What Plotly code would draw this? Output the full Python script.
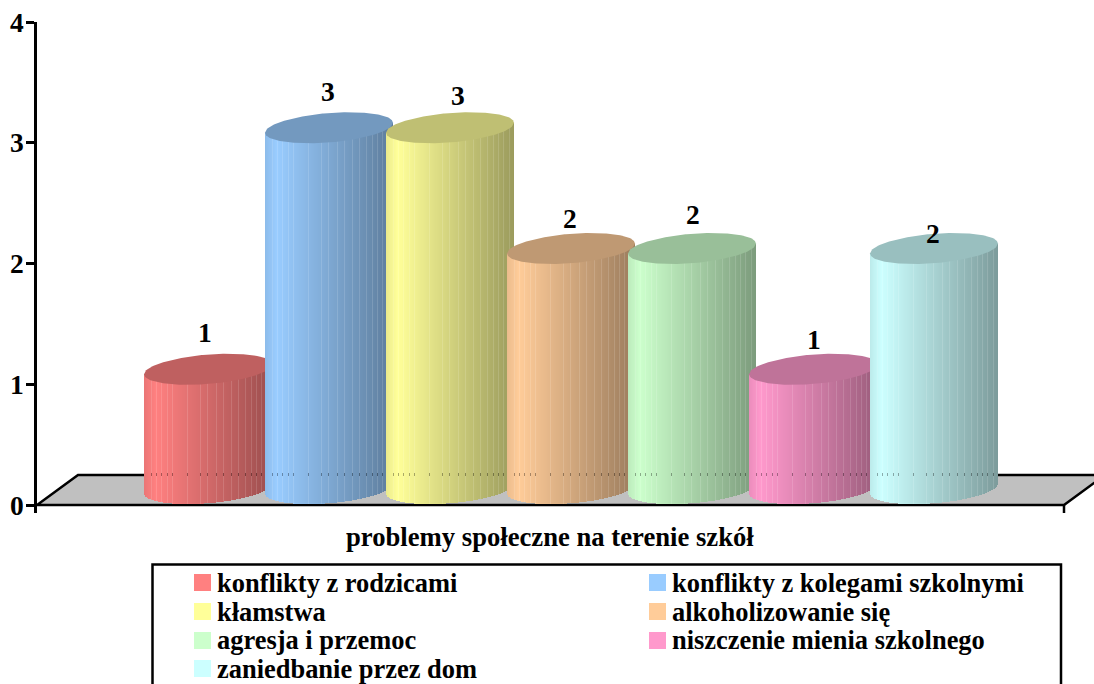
import math
import plotly.graph_objects as go

# ---- data ----
categories = ["konflikty z rodzicami", "konflikty z kolegami szkolnymi", "kłamstwa",
              "alkoholizowanie się", "agresja i przemoc", "niszczenie mienia szkolnego",
              "zaniedbanie przez dom"]
values = [1, 3, 3, 2, 2, 1, 2]
colors = [(255, 128, 128), (153, 204, 255), (255, 255, 153), (255, 204, 153),
          (204, 255, 204), (255, 153, 204), (204, 255, 255)]
y_ticks = [0, 1, 2, 3, 4]
x_title = "problemy społeczne na terenie szkół"

# ---- layout constants (pixels of the 1094x684 page) ----
W, H = 1094, 684
PL, PR, PT, PB = 37, 1094, 22, 513
Y0, UNIT = 505, 120.75
X0, STEP = 208, 121
RADIUS, TILT, HALF = 64, 5.0, 14.7
CENTER_DROP = 15
BOTTOM_LIFT = 1.5
SEAMS = [7, 12, 17, 23, 28, 43, 56, 63, 72, 79, 87, 94, 101, 107, 112, 117, 123]
LABEL_SHIFT = [(-3, 37), (-1, 36), (8, 32), (-1, 30.5), (1, 34.5), (1, 30), (-1, 15.5)]
FONT = "Liberation Serif"
TITLE_SIZE = 26.67
LEGEND_SIZE = 26.45
DIGIT_SIZE = 27.5


def X(p):
    return (p - X0) / STEP


def Y(p):
    return (Y0 - p) / UNIT


def PX(p):
    return (p - PL) / (PR - PL)


def PY(p):
    return (PB - p) / (PB - PT)


def rgb(c, f=1.0, white=0.0):
    v = [min(255, c_ * f) * (1 - white) + 255 * white for c_ in c]
    return "rgb(%d,%d,%d)" % tuple(round(a) for a in v)


def shade(t):
    return 0.92 + t / 0.09 * 0.08 if t < 0.09 else 1 - (t - 0.09) * 0.43


def edge(dx, sign):
    """Offset in px of the tilted ellipse edge at dx from the centre; sign=+1 lower edge, 0 centre line."""
    u = max(-1.0, min(1.0, dx / RADIUS))
    return -TILT * u + sign * HALF * math.sqrt(1 - u * u)


fig = go.Figure()
caps = []
for i, (name, v, c) in enumerate(zip(categories, values, colors)):
    cx = X0 + STEP * i
    left = cx - RADIUS
    top_px = Y0 - CENTER_DROP - v * UNIT
    bot_px = Y0 - CENTER_DROP - BOTTOM_LIFT
    xs, bases, heights, cols = [], [], [], []
    for k in range(2 * RADIUS):
        px = left + k + 0.5
        lower = bot_px + edge(px - cx, 1)
        upper = top_px + edge(px - cx, 0)
        xs.append(X(px))
        bases.append(Y(lower))
        heights.append((lower - upper) / UNIT)
        cols.append(rgb(c, shade((k + 0.5) / (2 * RADIUS))))
    fig.add_trace(go.Bar(x=xs, y=heights, base=bases, width=1 / STEP, name=name,
                         marker=dict(color=cols, line=dict(width=0)), showlegend=False,
                         hoverinfo="skip"))
    # thin lighter seams between facets, and the floor line showing through them
    sx, sb, sh, sc, dc = [], [], [], [], []
    for s in SEAMS:
        px = left + s + 0.5
        lower = bot_px + edge(px - cx, 1)
        upper = top_px + edge(px - cx, 0)
        sx.append(X(px))
        sb.append(Y(lower))
        sh.append((lower - upper) / UNIT)
        sc.append(rgb(c, shade(s / 128), 0.13))
        dc.append(rgb(c, shade(s / 128) * 0.68))
    fig.add_trace(go.Bar(x=sx, y=sh, base=sb, width=1 / STEP, showlegend=False,
                         marker=dict(color=sc, line=dict(width=0)), hoverinfo="skip"))
    fig.add_trace(go.Bar(x=sx, y=[3 / UNIT] * len(sx), base=[Y(476)] * len(sx), width=1 / STEP,
                         showlegend=False, marker=dict(color=dc, line=dict(width=0)),
                         hoverinfo="skip"))
    # top cap (cut where the next, taller cylinder stands in front of it)
    limit = RADIUS
    if i + 1 < len(values) and values[i + 1] > v:
        limit = STEP - RADIUS
    n = 120
    grid = [-RADIUS + 2 * RADIUS * j / n for j in range(n + 1) if -RADIUS + 2 * RADIUS * j / n <= limit]
    grid.append(limit)
    cap_x = [X(cx + d) for d in grid] + [X(cx + d) for d in reversed(grid)]
    cap_y = [Y(top_px + edge(d, -1)) for d in grid] + [Y(top_px + edge(d, 1)) for d in reversed(grid)]
    caps.append(go.Scatter(x=cap_x, y=cap_y, mode="lines", fill="toself", fillcolor=rgb(c, 0.75),
                           line=dict(width=0), showlegend=False, hoverinfo="skip"))
for t in caps:
    fig.add_trace(t)

annotations = []
# value labels
for i, v in enumerate(values):
    dx, up = LABEL_SHIFT[i]
    annotations.append(dict(x=i, y=v + Y(Y0 - CENTER_DROP), xref="x", yref="y", text=str(v),
                            xshift=dx, yshift=up, showarrow=False, xanchor="center", yanchor="middle",
                            font=dict(family=FONT, size=DIGIT_SIZE, color="black", weight=700)))
# axis title
annotations.append(dict(x=PX(550), y=PY(537), xref="paper", yref="paper", text=x_title, showarrow=False,
                        xanchor="center", yanchor="middle",
                        font=dict(family=FONT, size=TITLE_SIZE, color="black", weight=700)))

shapes = [
    dict(type="path", layer="below", xref="x", yref="y",
         path="M %f %f L %f %f L %f %f L %f %f Z" % (X(37), Y(505), X(78), Y(475), X(1105), Y(475), X(1064), Y(505)),
         fillcolor="#C0C0C0", line=dict(color="black", width=2.5)),
    dict(type="line", layer="below", xref="x", yref="y", x0=X(1064), x1=X(1064), y0=Y(505), y1=Y(513),
         line=dict(color="black", width=2.5)),
    dict(type="rect", xref="paper", yref="paper", x0=PX(152.5), x1=PX(1061), y0=PY(564.5), y1=PY(700),
         line=dict(color="black", width=2.5), fillcolor="rgba(0,0,0,0)"),
]
# legend entries: two columns, filled row by row
LEG_X = [194, 649]
LEG_Y = [574, 603, 632, 660]
LEG_TEXT_Y = [583, 611.5, 640, 668.5]
for i, (name, c) in enumerate(zip(categories, colors)):
    lx, ly = LEG_X[i % 2], LEG_Y[i // 2]
    shapes.append(dict(type="rect", xref="paper", yref="paper", x0=PX(lx), x1=PX(lx + 17), y0=PY(ly), y1=PY(ly + 17),
                       fillcolor=rgb(c), line=dict(width=0)))
    annotations.append(dict(x=PX(lx + 20.5), y=PY(LEG_TEXT_Y[i // 2]), xref="paper", yref="paper", text=name,
                            showarrow=False, xanchor="left", yanchor="middle",
                            font=dict(family=FONT, size=LEGEND_SIZE, color="black", weight=700)))

fig.update_layout(
    width=W, height=H, autosize=False, paper_bgcolor="white", plot_bgcolor="white",
    margin=dict(l=PL, r=W - PR, t=PT, b=H - PB, pad=0),
    barmode="overlay", bargap=0, showlegend=False,
    shapes=shapes, annotations=annotations,
    xaxis=dict(visible=False, range=[X(PL), X(PR)], fixedrange=True),
    yaxis=dict(range=[Y(PB), Y(PT)], tickmode="array", tickvals=y_ticks, showgrid=False, zeroline=False,
               showline=True, linecolor="black", linewidth=2.5, ticks="outside", ticklen=8, tickwidth=2.5,
               tickcolor="black", ticklabelstandoff=-3,
               tickfont=dict(family=FONT, size=DIGIT_SIZE, color="black", weight=700),
               fixedrange=True),
)
fig.write_html("out.html", config=dict(displayModeBar=False),
               post_script="document.body.style.margin='0';document.documentElement.style.overflow='hidden';")
